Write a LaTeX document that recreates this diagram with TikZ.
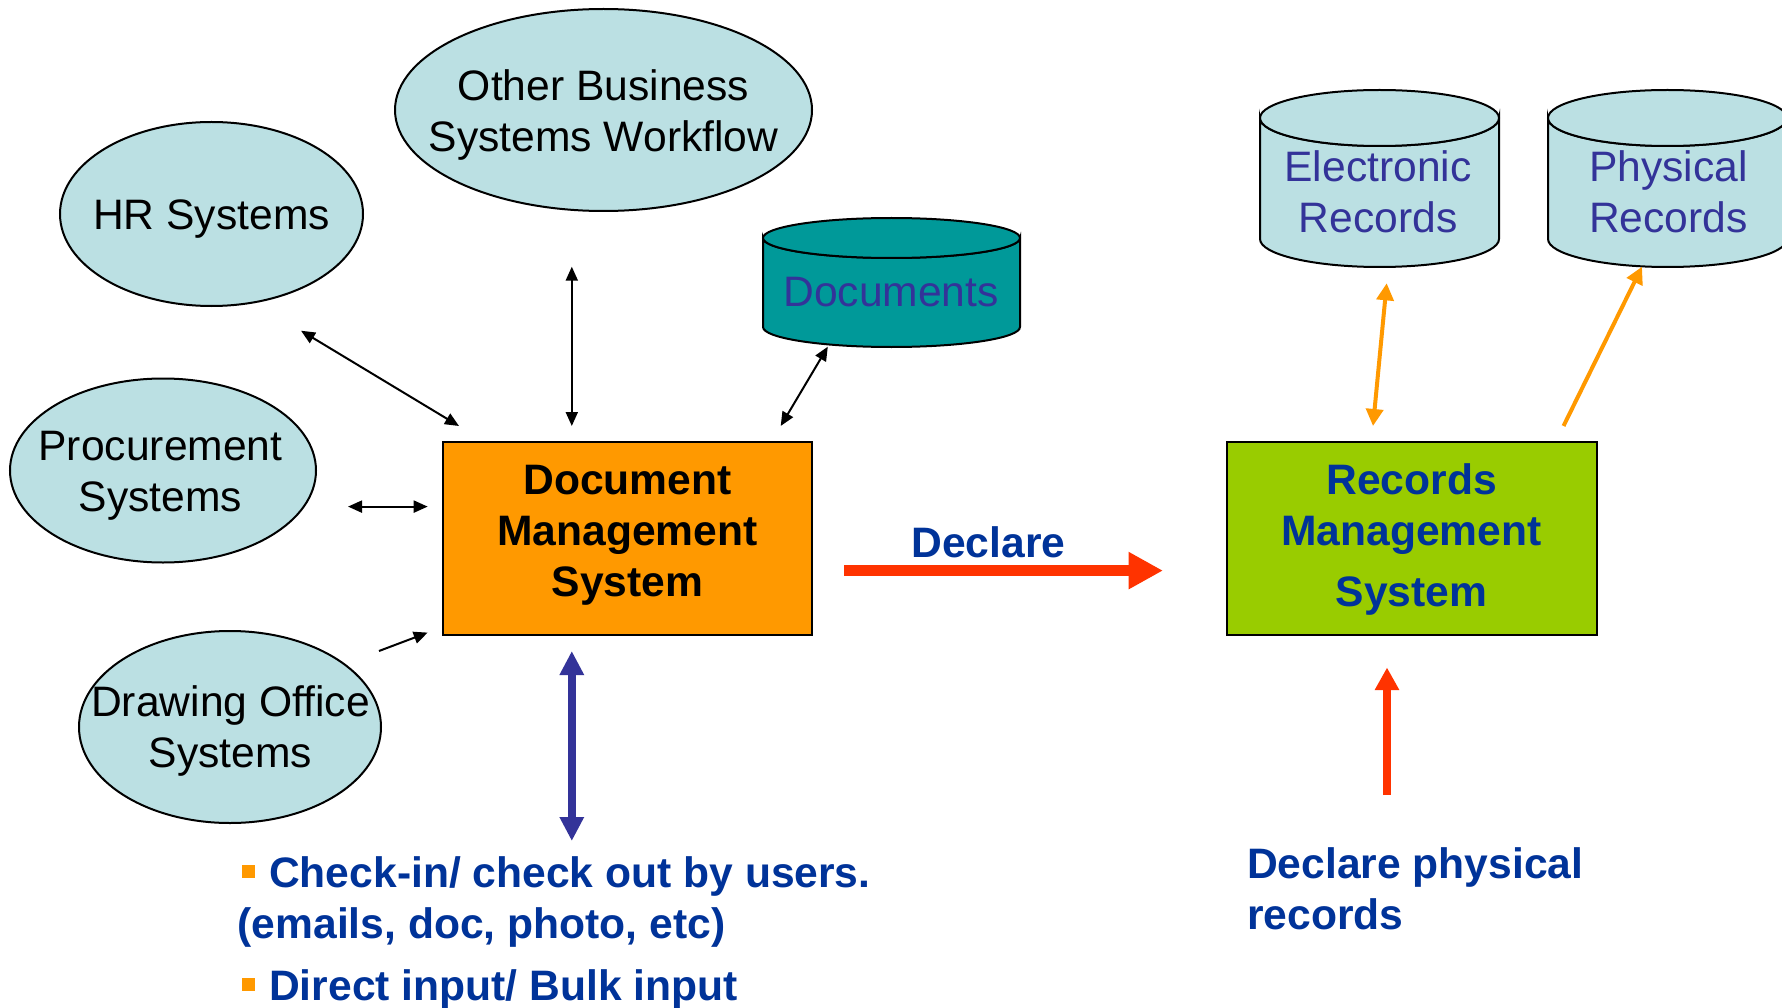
\documentclass[tikz,border=0pt]{standalone}
\usepackage{fontspec}
\setmainfont{Liberation Sans}
\usetikzlibrary{shapes.geometric,arrows.meta}
\definecolor{lblue}{HTML}{BBE0E3}
\definecolor{tealc}{HTML}{009999}
\definecolor{orng}{HTML}{FF9900}
\definecolor{grn}{HTML}{99CC00}
\definecolor{txtblue}{HTML}{003399}
\definecolor{cyltxt}{HTML}{333399}
\definecolor{redarr}{HTML}{FF3300}
\definecolor{purp}{HTML}{333399}
\newcommand{\bul}{\hspace*{4.5pt}\raisebox{9.5pt}{\textcolor{orng}{\rule{13pt}{12.5pt}}}\hspace*{14pt}}
\newcommand{\drawcyl}[6]{%
  \filldraw[cylline, fill=#6] ({#1-#2},#3) -- ({#1-#2},#4)
    arc[start angle=180, end angle=360, x radius=#2pt, y radius=#5pt]
    -- ({#1+#2},#3)
    arc[start angle=0, end angle=-180, x radius=#2pt, y radius=#5pt] -- cycle;
  \filldraw[cylline, fill=#6] (#1,#3) ellipse[x radius=#2pt, y radius=#5pt];
}
\begin{document}
\begin{tikzpicture}[x=1pt,y=-1pt,
  sys/.style={ellipse, draw=black, line width=2pt, fill=lblue, inner sep=0pt},
  box/.style={rectangle, draw=black, line width=2.5pt, inner sep=0pt},
  rtxt/.style={font=\fontsize{42.6}{51}\selectfont, inner sep=0pt, align=center},
  btxt/.style={font=\fontsize{42.6}{51}\selectfont\bfseries, inner sep=0pt, align=center},
  cylline/.style={draw=black, line width=2pt},
  holder/.style={rectangle, inner sep=0pt},
  thinarr/.style={line width=2pt, black, >={Triangle[length=14pt,width=12pt]}},
  orarr/.style={line width=4pt, orng, >={Triangle[length=17pt,width=17pt]}},
]
\fill[white] (0,0) rectangle (1782,1008);
\path[use as bounding box] (0,0) rectangle (1782,1008);

% ellipses
\node[sys, minimum width=303, minimum height=184] (hr) at (211.5,214) {};
\node[rtxt] (hrT) at (211.5,219.5) {HR Systems};
\node[sys, minimum width=417, minimum height=202] (obs) at (603.5,110) {};
\node[rtxt] (obsT) at (603.5,115.2) {Other Business\\Systems Workflow};
\node[sys, minimum width=306, minimum height=184] (proc) at (163,470.5) {};
\node[rtxt] (procT) at (160.5,475.5) {Procurement\\Systems};
\node[sys, minimum width=302, minimum height=192] (dos) at (230,727) {};
\node[rtxt] (dosT) at (230.5,731) {Drawing Office\\Systems};

% boxes
\node[box, fill=orng, minimum width=369, minimum height=193] (dms) at (627.5,538.5) {};
\node[btxt] (dmsT) at (627.5,535.5) {Document\\Management\\System};
\node[box, fill=grn, minimum width=370, minimum height=193] (rms) at (1412,538.5) {};
\node[btxt, text=txtblue] (rmsT) at (1411.5,539.5) {Records\\Management\\[10.5pt]System};

% cylinders
\node[holder, minimum width=257, minimum height=129] (docs) at (891.5,282.5) {};
\drawcyl{891.5}{128.5}{238}{327}{20}{tealc}
\node[rtxt, text=cyltxt] (docsT) at (891,292) {Documents};
\node[holder, minimum width=239, minimum height=177] (erec) at (1379.5,178.5) {};
\drawcyl{1379.5}{119.5}{118}{239}{28}{lblue}
\node[rtxt, text=cyltxt] (erecT) at (1378,192) {Electronic\\Records};
\node[holder, minimum width=239, minimum height=177] (prec) at (1667.5,178.5) {};
\drawcyl{1667.5}{119.5}{118}{239}{28}{lblue}
\node[rtxt, text=cyltxt] (precT) at (1668.5,192) {Physical\\Records};

% texts
\node[btxt, text=txtblue] (decl) at (988.5,542.5) {Declare};
\node[btxt, text=txtblue, align=left, anchor=west] (dphys) at (1247,888.5) {Declare physical\\records};
\node[btxt, text=txtblue, align=left, anchor=west] (checkin) at (237.5,932.5)
  {\bul Check-in/ check out by users.\\(emails, doc, photo, etc)\\[11pt]\bul Direct input/ Bulk input};

% connector end points
\coordinate (hrA) at (301,330.7);  \coordinate (hrB) at (459,426);
\coordinate (obsA) at (571.8,266.7); \coordinate (obsB) at (571.8,426);
\coordinate (docA) at (827.8,346.7); \coordinate (docB) at (780.7,426);
\coordinate (procA) at (348,506.6); \coordinate (procB) at (427.7,506.6);
\coordinate (dosA) at (379,651); \coordinate (dosB) at (427.7,632.6);
\coordinate (erA) at (1373,426); \coordinate (erB) at (1386.7,283.3);
\coordinate (prA) at (1563.5,426); \coordinate (prB) at (1642,266.7);
\coordinate (declA) at (844,570.6); \coordinate (declB) at (1163,570.6);
\coordinate (dpA) at (1387,795); \coordinate (dpB) at (1387,667.5);
\coordinate (ciA) at (571.8,651); \coordinate (ciB) at (571.8,841);

% connectors
\draw[thinarr, <->] (hrA) -- (hrB);
\draw[thinarr, <->] (obsA) -- (obsB);
\draw[thinarr, <->] (docA) -- (docB);
\draw[thinarr, <->] (procA) -- (procB);
\draw[thinarr, ->] (dosA) -- (dosB);
\draw[orarr, <->] (erA) -- (erB);
\draw[orarr, ->] (prA) -- (prB);
\draw[line width=11.6pt, redarr, -{Triangle[length=34.5pt,width=35pt]}] (declA) -- (declB);
\draw[line width=7.5pt, redarr, -{Triangle[length=22.5pt,width=23pt]}] (dpA) -- (dpB);
\draw[line width=8.5pt, purp, {Triangle[length=24pt,width=23pt]}-{Triangle[length=24pt,width=23pt]}] (ciA) -- (ciB);
\end{tikzpicture}
\end{document}
